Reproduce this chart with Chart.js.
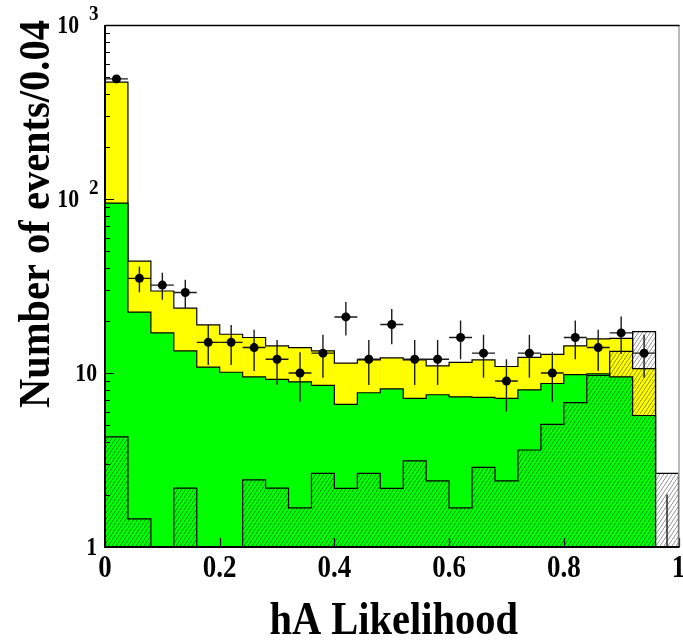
<!DOCTYPE html>
<html>
<head>
<meta charset="utf-8">
<script src="https://cdn.jsdelivr.net/npm/chart.js@4.4.1/dist/chart.umd.min.js"></script>
<style>
  html, body { margin: 0; padding: 0; background: #ffffff; }
  canvas { display: block; }
</style>
</head>
<body>
<canvas id="c" width="683" height="644"></canvas>
<script>
// Lower edges of the likelihood bins (width 0.04)
const binLow = [0.00, 0.04, 0.08, 0.12, 0.16, 0.20, 0.24, 0.28, 0.32, 0.36,
                0.40, 0.44, 0.48, 0.52, 0.56, 0.60, 0.64, 0.68, 0.72, 0.76,
                0.80, 0.84, 0.88, 0.92, 0.96];
const binWidth = 0.04;

// Observed events per bin
const dataCounts = [490, 35, 32, 29, 15, 15, 14, 12, 10, 13,
                    21, 12, 19, 12, 12, 16, 13, 9, 13, 10,
                    16, 14, 17, 13, 1];

// Green background component (bottom of the stack)
const bkgGreen = [94.8, 22.4, 17.0, 13.4, 10.8, 10.1, 9.5, 9.2, 8.9, 8.5,
                  6.6, 7.7, 8.1, 7.15, 7.5, 7.3, 7.25, 7.15, 8.0, 8.7,
                  9.8, 9.9, 9.5, 5.7, 0];

// Yellow background component (stacked on the green one)
const bkgYellow = [375, 21.6, 12.6, 10.2, 8.1, 6.6, 6.5, 5.1, 5.1, 4.9,
                   4.8, 4.2, 4.1, 4.75, 3.5, 4.2, 4.65, 3.75, 4.3, 4.1,
                   4.5, 5.8, 6.3, 4.9, 0];

// Hatched histogram, drawn on its own over the stack
const hatchedHist = [4.3, 1.45, 0, 2.18, 0, 0, 2.43, 2.18, 1.68, 2.65,
                     2.17, 2.65, 2.17, 3.13, 2.40, 1.68, 2.87, 2.40, 3.61, 5.07,
                     6.75, 9.7, 13.3, 17.3, 2.65];

// Axis ticks and titles
const xTickValues = [0, 0.2, 0.4, 0.6, 0.8, 1];
const xTickLabels = ['0', '0.2', '0.4', '0.6', '0.8', '1'];
const yTickValues = [1, 10, 100, 1000];
const yTickBase = ['1', '10', '10', '10'];
const yTickExp = ['', '', '2', '3'];
const xTitle = 'hA Likelihood';
const yTitle = 'Number of events/0.04';

const Y_MIN = 1, Y_MAX = 1000;
const FONT = '"Liberation Serif", "DejaVu Serif", serif';

// Step outline of a histogram, closed down to the axis floor at both ends
function stepPoints(vals) {
  const last = binLow[binLow.length - 1] + binWidth;
  const pts = [{ x: binLow[0], y: Y_MIN }];
  vals.forEach((v, i) => pts.push({ x: binLow[i], y: Math.max(v, Y_MIN) }));
  pts.push({ x: last, y: Math.max(vals[vals.length - 1], Y_MIN) });
  pts.push({ x: last, y: Y_MIN });
  return pts;
}

// Diagonal hatch tile
function hatchPattern() {
  const w = 4, h = 6;
  const t = document.createElement('canvas');
  t.width = w; t.height = h;
  const g = t.getContext('2d');
  g.strokeStyle = 'rgba(0,0,0,0.55)';
  g.lineWidth = 0.8;
  g.beginPath();
  g.moveTo(-w, 2 * h); g.lineTo(2 * w, -h);
  g.stroke();
  return document.getElementById('c').getContext('2d').createPattern(t, 'repeat');
}

const stackTotal = bkgGreen.map((g, i) => g + bkgYellow[i]);
const dataPoints = dataCounts.map((n, i) => ({ x: binLow[i] + binWidth / 2, y: n }));

function drawText(ctx, str, x, y, size, align, baseline, sx, rot) {
  ctx.save();
  ctx.translate(x, y);
  if (rot) ctx.rotate(rot);
  ctx.scale(sx, 1);
  ctx.font = 'bold ' + size + 'px ' + FONT;
  ctx.fillStyle = '#000';
  ctx.textAlign = align;
  ctx.textBaseline = baseline;
  ctx.fillText(str, 0, 0);
  ctx.restore();
}

// Poisson error bars under the data markers
const errorBars = {
  id: 'errorBars',
  beforeDatasetDraw(chart, args) {
    if (args.index !== 3) return;
    const { ctx, chartArea: a } = chart;
    const xs = chart.scales.x, ys = chart.scales.y;
    ctx.save();
    ctx.beginPath();
    ctx.rect(a.left, a.top, a.right - a.left, a.bottom - a.top);
    ctx.clip();
    ctx.strokeStyle = '#1a1a1a';
    ctx.lineWidth = 1.4;
    dataCounts.forEach((n, i) => {
      const e = Math.sqrt(n);
      const px = xs.getPixelForValue(binLow[i] + binWidth / 2);
      const py = ys.getPixelForValue(Math.max(n, Y_MIN));
      const top = ys.getPixelForValue(n + e);
      const bot = ys.getPixelForValue(Math.max(n - e, Y_MIN));
      ctx.beginPath();
      ctx.moveTo(px, top); ctx.lineTo(px, bot);
      ctx.moveTo(xs.getPixelForValue(binLow[i]), py);
      ctx.lineTo(xs.getPixelForValue(binLow[i] + binWidth), py);
      ctx.stroke();
    });
    ctx.restore();
  }
};

// Frame, inward ticks, tick labels and axis titles
const frameAndLabels = {
  id: 'frameAndLabels',
  afterDraw(chart) {
    const { ctx, chartArea: a } = chart;
    const xs = chart.scales.x, ys = chart.scales.y;
    ctx.save();
    ctx.strokeStyle = '#000';
    // ticks on the left axis
    ctx.lineWidth = 1.2;
    ctx.beginPath();
    for (let d = 1; d < Y_MAX; d *= 10) {
      for (let m = 1; m <= 10; m++) {
        const v = d * m;
        if (v > Y_MAX) break;
        const py = Math.round(ys.getPixelForValue(v)) + 0.5;
        const len = (m === 1 || m === 10) ? 9 : 5;
        ctx.moveTo(a.left, py); ctx.lineTo(a.left + len, py);
      }
    }
    // ticks on the bottom axis
    xTickValues.forEach(v => {
      const px = Math.round(xs.getPixelForValue(v)) + 0.5;
      ctx.moveTo(px, a.bottom); ctx.lineTo(px, a.bottom - 9);
    });
    ctx.stroke();
    // frame
    ctx.lineWidth = 1;
    ctx.strokeStyle = '#777';
    ctx.beginPath();
    ctx.moveTo(a.right + 0.5, a.top); ctx.lineTo(a.right + 0.5, a.bottom);
    ctx.stroke();
    ctx.strokeStyle = '#000';
    ctx.lineWidth = 1.5;
    ctx.beginPath();
    ctx.moveTo(a.left, a.top + 0.5); ctx.lineTo(a.right + 1, a.top + 0.5);
    ctx.stroke();
    ctx.lineWidth = 2;
    ctx.beginPath();
    ctx.moveTo(a.left, a.top); ctx.lineTo(a.left, a.bottom);
    ctx.lineTo(a.right + 1, a.bottom);
    ctx.stroke();
    ctx.restore();

    // x tick labels
    xTickValues.forEach((v, i) => {
      drawText(ctx, xTickLabels[i], xs.getPixelForValue(v), a.bottom + 30, 31, 'center', 'alphabetic', 0.87);
    });
    // y tick labels (with exponents)
    yTickValues.forEach((v, i) => {
      const py = ys.getPixelForValue(v);
      if (yTickExp[i]) {
        drawText(ctx, yTickBase[i], a.left - 26, py + 1.5, 25, 'right', 'middle', 0.87);
        drawText(ctx, yTickExp[i], a.left - 16, py - 11, 22, 'left', 'middle', 0.87);
      } else {
        drawText(ctx, yTickBase[i], a.left - 8, py + 1.5, 25, 'right', 'middle', 0.87);
      }
    });
    // axis titles
    drawText(ctx, xTitle, (a.left + a.right) / 2 + 2, 634, 46, 'center', 'alphabetic', 0.88);
    drawText(ctx, yTitle, 49, 214, 44, 'center', 'alphabetic', 0.92, -Math.PI / 2);
  }
};

new Chart(document.getElementById('c'), {
  data: {
    datasets: [
      {
        type: 'line', label: 'stack', data: stepPoints(stackTotal), stepped: 'before',
        fill: 'start', backgroundColor: '#ffff00', borderColor: '#000', borderWidth: 1.2,
        pointRadius: 0, order: 3
      },
      {
        type: 'line', label: 'green', data: stepPoints(bkgGreen), stepped: 'before',
        fill: 'start', backgroundColor: '#00ff00', borderColor: '#000', borderWidth: 1.2,
        pointRadius: 0, order: 2
      },
      {
        type: 'line', label: 'hatched', data: stepPoints(hatchedHist), stepped: 'before',
        fill: 'start', backgroundColor: hatchPattern(), borderColor: '#000', borderWidth: 1.2,
        pointRadius: 0, order: 1
      },
      {
        type: 'scatter', label: 'data', data: dataPoints,
        backgroundColor: '#000', borderWidth: 0,
        pointRadius: c => (c.raw && c.raw.y > Y_MIN ? 4.5 : 0),
        order: 0
      }
    ]
  },
  options: {
    responsive: false,
    devicePixelRatio: 1,
    animation: false,
    layout: { padding: { left: 105, right: 4, top: 25, bottom: 97 } },
    plugins: { legend: { display: false }, tooltip: { enabled: false } },
    scales: {
      x: { type: 'linear', min: 0, max: 1, display: false },
      y: { type: 'logarithmic', min: Y_MIN, max: Y_MAX, display: false }
    }
  },
  plugins: [errorBars, frameAndLabels]
});
</script>
</body>
</html>
